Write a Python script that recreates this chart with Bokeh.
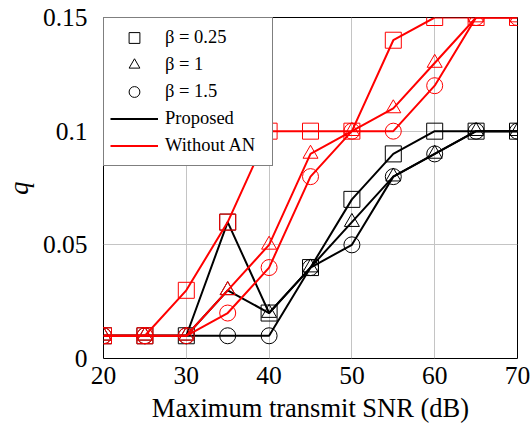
from bokeh.plotting import figure
from bokeh.models import FixedTicker, Legend, LegendItem
from bokeh.embed import file_html
from bokeh.resources import INLINE

snr = [20, 25, 30, 35, 40, 45, 50, 55, 60, 65, 70]

prop_b025 = [0.01, 0.01, 0.01, 0.06, 0.02, 0.04, 0.07, 0.09, 0.10, 0.10, 0.10]
prop_b1   = [0.01, 0.01, 0.01, 0.03, 0.02, 0.04, 0.06, 0.08, 0.09, 0.10, 0.10]
prop_b15  = [0.01, 0.01, 0.01, 0.01, 0.01, 0.04, 0.05, 0.08, 0.09, 0.10, 0.10]

woan_b025 = [0.01, 0.01, 0.03, 0.06, 0.10, 0.10, 0.10, 0.14, 0.15, 0.15, 0.15]
woan_b1   = [0.01, 0.01, 0.01, 0.03, 0.05, 0.09, 0.10, 0.11, 0.13, 0.15, 0.15]
woan_b15  = [0.01, 0.01, 0.01, 0.02, 0.04, 0.08, 0.10, 0.10, 0.12, 0.15, 0.15]

x_ticks = [20, 30, 40, 50, 60, 70]
y_ticks = [0, 0.05, 0.1, 0.15]
y_tick_labels = ["0", "0.05", "0.1", "0.15"]
beta_labels = ["β = 0.25", "β = 1", "β = 1.5"]
series_labels = ["Proposed", "Without AN"]

FONT = "Liberation Serif"

p = figure(width=530, height=426, x_range=(20, 70), y_range=(0, 0.15),
           output_backend="svg", toolbar_location=None,
           min_border_left=102, min_border_right=13, min_border_top=17, min_border_bottom=68)

p.outline_line_color = "black"
p.outline_line_width = 1
p.background_fill_color = "white"

for ax in (p.xaxis[0], p.yaxis[0]):
    ax.major_tick_line_color = None
    ax.minor_tick_line_color = None
    ax.axis_line_color = None
    ax.major_label_text_font = FONT
    ax.major_label_text_font_size = "25.5px"
    ax.major_label_text_color = "black"
    ax.axis_label_text_font = FONT
    ax.axis_label_text_font_size = "26.5px"
    ax.axis_label_text_font_style = "normal"
    ax.axis_label_text_color = "black"

p.xaxis.ticker = FixedTicker(ticks=x_ticks)
p.yaxis.ticker = FixedTicker(ticks=y_ticks)
p.yaxis.major_label_overrides = {t: l for t, l in zip(y_ticks, y_tick_labels)}
p.xaxis.major_label_standoff = 2
p.yaxis.major_label_standoff = 10
p.xaxis.axis_label = "Maximum transmit SNR (dB)"
p.yaxis.axis_label = "q"
p.yaxis.axis_label_text_font_style = "italic"
p.xaxis.axis_label_standoff = 6
p.yaxis.axis_label_standoff = 6

p.xgrid.grid_line_color = "#c4c4c4"
p.ygrid.grid_line_color = "#c4c4c4"
p.xgrid.grid_line_width = 1
p.ygrid.grid_line_width = 1

markers = ["square", "triangle", "circle"]
msizes = [16, 15, 16]

groups = [("black", [prop_b025, prop_b1, prop_b15]),
          ("red", [woan_b025, woan_b1, woan_b15])]

for color, series in groups:
    for ys, mk, ms in zip(series, markers, msizes):
        p.line(snr, ys, line_color=color, line_width=2)
        p.scatter(snr, ys, marker=mk, size=ms, line_color=color, line_width=1,
                  fill_color=None)

# legend proxy renderers (single point far outside the visible range)
items = []
for lab, mk, ms in zip(beta_labels, markers, msizes):
    r = p.scatter([-1000], [-1000], marker=mk, size=ms, line_color="black",
                  line_width=1, fill_color=None)
    items.append(LegendItem(label=lab, renderers=[r]))
for lab, color in zip(series_labels, ["black", "red"]):
    r = p.line([-1000, -999], [-1000, -1000], line_color=color, line_width=2)
    items.append(LegendItem(label=lab, renderers=[r]))

legend = Legend(items=items, location="top_left", margin=0, padding=6,
                spacing=0, glyph_width=48, glyph_height=27, label_height=27,
                label_standoff=7, label_width=101,
                label_text_font=FONT, label_text_font_size="18.5px",
                label_text_color="black",
                border_line_color="black", border_line_width=1,
                background_fill_color="white", background_fill_alpha=1.0)
p.add_layout(legend, "center")

open("out.html", "w").write(file_html(p, INLINE))
